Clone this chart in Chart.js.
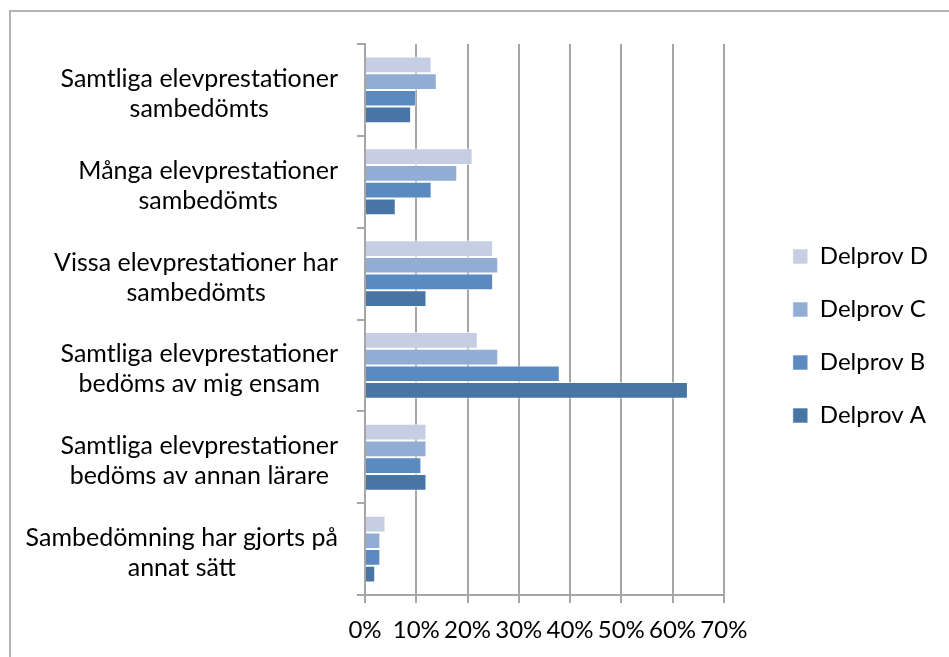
<!DOCTYPE html>
<html>
<head>
<meta charset="utf-8">
<script src="https://cdn.jsdelivr.net/npm/chart.js@4"></script>
<style>
  html, body { margin: 0; padding: 0; background: #fff; overflow: hidden; }
  #frame { position: absolute; left: 9px; top: 10px; width: 960px; height: 680px; border: 2px solid #b4b4b4; }
  #chart { position: absolute; left: 0; top: 0; }
</style>
</head>
<body>
<div id="frame"></div>
<canvas id="chart" width="949" height="657"></canvas>
<script>
// categories (each entry = wrapped lines of the axis label)
const categories = [
  ["Samtliga elevprestationer", "sambedömts"],
  ["Många elevprestationer", "sambedömts"],
  ["Vissa elevprestationer har", "sambedömts"],
  ["Samtliga elevprestationer", "bedöms av mig ensam"],
  ["Samtliga elevprestationer", "bedöms av annan lärare"],
  ["Sambedömning har gjorts på", "annat sätt"]
];
const seriesNames = ["Delprov D", "Delprov C", "Delprov B", "Delprov A"];
const delprovD = [13, 21, 25, 22, 12, 4];
const delprovC = [14, 18, 26, 26, 12, 3];
const delprovB = [10, 13, 25, 38, 11, 3];
const delprovA = [9, 6, 12, 63, 12, 2];
const seriesValues = [delprovD, delprovC, delprovB, delprovA];
const seriesColors = ["#c5cee3", "#91add3", "#5a8ac0", "#4776a5"];
const xMax = 70;
const xStep = 10;

const FONT = 'Lato, "Open Sans", sans-serif';
const GRID = "#a6a6a6";

// axis labels like Excel: block right aligned, each line centred in it
const wrappedLabels = {
  id: "wrappedLabels",
  afterDraw(chart) {
    const scale = chart.scales.y;
    const ctx = chart.ctx;
    ctx.save();
    ctx.font = "25px " + FONT;
    ctx.fillStyle = "#000";
    ctx.textAlign = "center";
    ctx.textBaseline = "middle";
    const right = scale.right - 27;
    categories.forEach((lines, i) => {
      const y = scale.getPixelForTick(i) + 4;
      const w = Math.max(...lines.map(l => ctx.measureText(l).width));
      lines.forEach((line, j) => {
        ctx.fillText(line, right - w / 2, y + (j - (lines.length - 1) / 2) * 30);
      });
    });
    ctx.restore();
  }
};

new Chart(document.getElementById("chart"), {
  type: "bar",
  data: {
    labels: categories,
    datasets: seriesNames.map((name, k) => ({
      label: name,
      data: seriesValues[k],
      backgroundColor: seriesColors[k],
      borderColor: "rgba(255,255,255,0.6)",
      borderWidth: 1,
      categoryPercentage: 0.727,
      barPercentage: 1
    }))
  },
  options: {
    indexAxis: "y",
    responsive: false,
    animation: false,
    layout: { padding: { top: 44, right: 11, bottom: 0, left: 0 } },
    scales: {
      y: {
        ticks: { display: false },
        grid: { drawOnChartArea: false, tickLength: 8, color: GRID, lineWidth: 2 },
        border: { color: GRID, width: 2 },
        afterFit: s => { s.width = 365; }
      },
      gap: {
        type: "linear",
        axis: "y",
        position: "right",
        ticks: { display: false },
        grid: { display: false },
        border: { display: false },
        afterFit: s => { s.width = 40; }
      },
      x: {
        min: 0,
        max: xMax,
        ticks: {
          stepSize: xStep,
          callback: v => v + "%",
          font: { size: 24, family: FONT },
          color: "#000",
          padding: 12.6,
          maxRotation: 0,
          minRotation: 0,
          autoSkip: false
        },
        grid: { color: GRID, lineWidth: 2, tickLength: 8 },
        border: { color: GRID, width: 2 }
      }
    },
    plugins: {
      legend: {
        position: "right",
        fullSize: false,
        maxWidth: 400,
        title: { display: true, text: "", padding: { top: 0, bottom: 18.6 } },
        labels: {
          boxWidth: 15,
          boxHeight: 15,
          padding: 29,
          font: { size: 24, family: FONT },
          color: "#000"
        }
      },
      tooltip: { enabled: false }
    }
  },
  plugins: [wrappedLabels]
});
</script>
</body>
</html>
